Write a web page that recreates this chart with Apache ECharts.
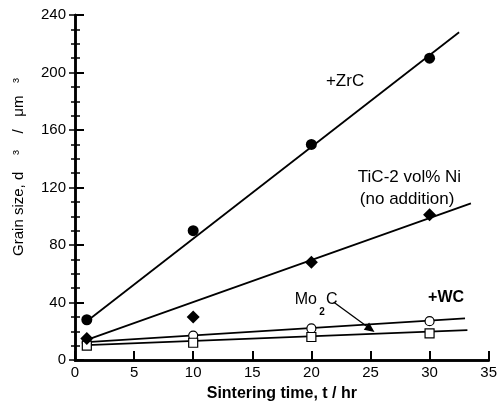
<!DOCTYPE html>
<html>
<head>
<meta charset="utf-8">
<script src="https://cdn.jsdelivr.net/npm/echarts@6/dist/echarts.min.js"></script>
<style>
  html, body { margin: 0; padding: 0; background: #fff; }
  #main { width: 500px; height: 407px; }
</style>
</head>
<body>
<div id="main"></div>
<script>
// measured points, t (hr) vs d^3 (um^3)
var zrcPts = [[1, 28], [10, 90], [20, 150], [30, 210]];
var nickelPts = [[1, 15], [10, 30], [20, 68], [30, 101]];
var mo2cPts = [[1, 12], [10, 17], [20, 22], [30, 27]];
var wcPts = [[1, 10], [10, 12], [20, 16], [30, 18.5]];

// fitted straight lines (end points)
var zrcFit = [[1, 27], [32.5, 228]];
var nickelFit = [[1, 14], [33.5, 109]];
var mo2cFit = [[1, 12.5], [33, 29]];
var wcFit = [[1, 10.3], [33.2, 20.8]];

// annotations
var labels = [
    { value: [22.85, 194], text: '+ZrC', size: 17 },
    { value: [28.3, 127], text: 'TiC-2 vol% Ni', size: 17 },
    { value: [28.1, 111.7], text: '(no addition)', size: 17 },
    { value: [20.4, 42.3], text: 'Mo  C', size: 16 },
    { value: [31.4, 43.7], text: '+WC', size: 16, bold: true }
];
var subLabel = [{ value: [20.9, 33.5], text: '2' }];
var leader = [[21.9, 40.2], [25.0, 21.5]];

var FONT = 'Liberation Sans';

var myChart = echarts.init(document.getElementById('main'));

function fitLine(data) {
    return {
        type: 'line', data: data, symbol: 'none', silent: true,
        lineStyle: { color: '#000', width: 1.8 }, z: 3
    };
}

var option = {
    backgroundColor: '#fff',
    animation: false,
    textStyle: { fontFamily: FONT, color: '#000' },
    grid: { left: 75, right: 10, top: 15, bottom: 46 },
    xAxis: [{
        type: 'value', min: 0, max: 35, interval: 5,
        name: 'Sintering time, t / hr',
        nameLocation: 'middle', nameGap: 26,
        nameTextStyle: { fontSize: 16, fontWeight: 'bold', color: '#000', fontFamily: FONT },
        axisLine: { lineStyle: { color: '#000', width: 2.5 } },
        axisTick: { inside: true, length: 9, lineStyle: { color: '#000', width: 2 } },
        axisLabel: { fontSize: 15, color: '#000', margin: 5, fontFamily: FONT },
        splitLine: { show: false }
    }, {
        type: 'value', min: 0, max: 35, position: 'top',
        axisLine: { lineStyle: { color: '#000', width: 2.5 } },
        axisTick: { show: false }, axisLabel: { show: false }, splitLine: { show: false }
    }],
    yAxis: [{
        type: 'value', min: 0, max: 240, interval: 40,
        axisLine: { show: true, lineStyle: { color: '#000', width: 2.5 } },
        axisTick: { show: true, inside: true, length: 9, lineStyle: { color: '#000', width: 2 } },
        minorTick: { show: true, splitNumber: 4, length: 5, lineStyle: { color: '#000', width: 1.5 } },
        axisLabel: { fontSize: 15, color: '#000', margin: 9, fontFamily: FONT },
        splitLine: { show: false }
    }, {
        type: 'value', min: 0, max: 240, interval: 40, position: 'right',
        axisLine: { show: true, lineStyle: { color: '#000', width: 2.5 } },
        axisTick: { show: true, inside: true, length: 6, lineStyle: { color: '#000', width: 1.5 } },
        minorTick: { show: true, splitNumber: 4, length: 4, lineStyle: { color: '#000', width: 1.5 } },
        axisLabel: { show: false }, splitLine: { show: false }
    }],
    graphic: [{
        type: 'text',
        x: 19, y: 167,
        rotation: Math.PI / 2,
        style: {
            text: 'Grain size, d    ³    /   μm   ³',
            font: '15px "Liberation Sans"', fill: '#000',
            align: 'center', verticalAlign: 'middle'
        }
    }],
    series: [
        fitLine(zrcFit), fitLine(nickelFit), fitLine(mo2cFit), fitLine(wcFit),
        {
            name: '+ZrC', type: 'scatter', data: zrcPts, symbol: 'circle', symbolSize: 11,
            itemStyle: { color: '#000', opacity: 1 }, z: 5
        },
        {
            name: 'TiC-2 vol% Ni', type: 'scatter', data: nickelPts, symbol: 'diamond', symbolSize: 13,
            itemStyle: { color: '#000', opacity: 1 }, z: 5
        },
        {
            name: '+Mo2C', type: 'scatter', data: mo2cPts, symbol: 'circle', symbolSize: 9,
            itemStyle: { color: '#fff', borderColor: '#000', borderWidth: 1.2, opacity: 1 }, z: 4
        },
        {
            name: '+WC', type: 'scatter', data: wcPts, symbol: 'rect', symbolSize: 9,
            itemStyle: { color: '#fff', borderColor: '#000', borderWidth: 1.2, opacity: 1 }, z: 4
        },
        {
            name: 'labels', type: 'scatter', data: labels.map(function (l) {
                return {
                    value: l.value,
                    label: { formatter: l.text, fontSize: l.size, fontWeight: l.bold ? 'bold' : 'normal' }
                };
            }),
            symbolSize: 0, silent: true, z: 6,
            itemStyle: { color: '#000', opacity: 1 },
            label: { show: true, position: 'inside', color: '#000', textBorderWidth: 0, fontFamily: FONT },
            markLine: {
                silent: true, symbol: ['none', 'triangle'], symbolSize: [9, 10],
                label: { show: false },
                lineStyle: { color: '#000', width: 1.3, type: 'solid', opacity: 1 },
                data: [[{ coord: leader[0] }, { coord: leader[1] }]]
            }
        },
        {
            name: 'sub', type: 'scatter', data: subLabel.map(function (l) {
                return { value: l.value, label: { formatter: l.text } };
            }),
            symbolSize: 0, silent: true, z: 6,
            itemStyle: { color: '#000', opacity: 1 },
            label: { show: true, position: 'inside', fontSize: 10, fontWeight: 'bold', color: '#000', textBorderWidth: 0, fontFamily: FONT }
        }
    ]
};

myChart.setOption(option);
</script>
</body>
</html>
